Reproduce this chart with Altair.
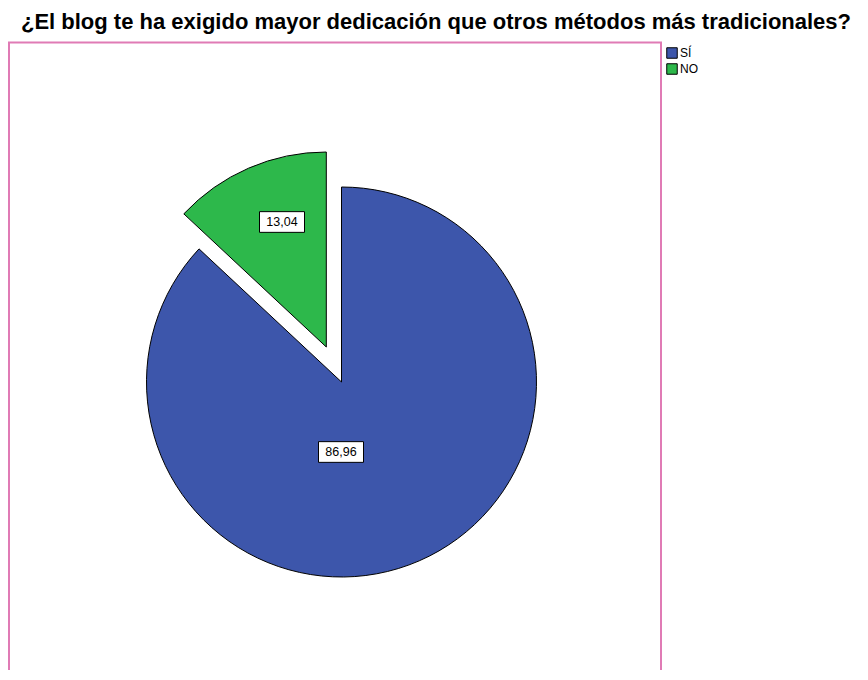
import altair as alt
import pandas as pd

categories = ["SÍ", "NO"]
percentages = [86.96, 13.04]
labels = ["86,96", "13,04"]
colors = ["#3d56ab", "#2db84b"]

df = pd.DataFrame({"cat": categories, "pct": percentages, "label": labels,
                   "order": [0, 1]})

CX, CY, R = 333.5, 340, 195
# exploded NO slice centre and label positions (style)
GX, GY = 318.3, 305
BLX, BLY = 333, 410
GLX, GLY = 274, 180
W, H = 852, 628

base = alt.Chart(df).transform_window(
    cum="sum(pct)", sort=[alt.SortField("order")]
).transform_calculate(
    start="datum.cum - datum.pct"
)

theta_scale = alt.Scale(domain=[0, 100], range=[0, 6.283185307179586])
color_enc = alt.Color("cat:N", scale=alt.Scale(domain=categories, range=colors),
                      sort=categories,
                      legend=alt.Legend(title=None, orient="none", legendX=658, legendY=5,
                                        symbolType="square", symbolSize=110,
                                        symbolStrokeColor="black", symbolStrokeWidth=1,
                                        symbolOpacity=1, labelFontSize=12,
                                        labelFont="Liberation Sans", labelColor="black",
                                        labelOffset=2, rowPadding=0, padding=0))

def slice_layer(cat, x, y):
    return base.transform_filter(alt.datum.cat == cat).mark_arc(
        stroke="black", strokeWidth=1, opacity=1
    ).encode(
        theta=alt.Theta("start:Q", scale=theta_scale),
        theta2="cum:Q",
        radius=alt.value(R),
        x=alt.value(x), y=alt.value(y),
        color=color_enc,
    )

def label_layers(cat, x, y):
    b = base.transform_filter(alt.datum.cat == cat)
    box = b.mark_point(
        shape="M-1,-0.46L1,-0.46L1,0.46L-1,0.46Z", filled=True, fill="white",
        stroke="black", strokeWidth=1, opacity=1, size=45 * 45
    ).encode(x=alt.value(x), y=alt.value(y))
    txt = b.mark_text(fontSize=12.5, font="Liberation Sans", color="black",
                      baseline="middle", align="center").encode(
        x=alt.value(x), y=alt.value(y), text="label:N")
    return [box, txt]

frame_color = "#e07bb5"
frame_df = pd.DataFrame({"k": [0]})
left = alt.Chart(frame_df).mark_rule(color=frame_color, strokeWidth=2).encode(
    x=alt.value(1), y=alt.value(0), y2=alt.value(H + 20))
right = alt.Chart(frame_df).mark_rule(color=frame_color, strokeWidth=2).encode(
    x=alt.value(653), y=alt.value(0), y2=alt.value(H + 20))
top = alt.Chart(frame_df).mark_rule(color=frame_color, strokeWidth=2).encode(
    x=alt.value(0), x2=alt.value(654), y=alt.value(0.5))

chart = alt.layer(
    left, right, top,
    slice_layer("SÍ", CX, CY),
    slice_layer("NO", GX, GY),
    *label_layers("SÍ", BLX, BLY),
    *label_layers("NO", GLX, GLY),
).properties(
    width=W, height=H,
    autosize=alt.AutoSizeParams(type="none"),
    padding={"left": 0, "top": 34, "right": 0, "bottom": 0},
    title=alt.TitleParams("¿El blog te ha exigido mayor dedicación que otros métodos más tradicionales?",
                          font="Liberation Sans", fontSize=22, fontWeight="bold",
                          color="black", anchor="middle", dx=2, offset=7),
).configure_view(stroke=None)

chart.save("out.html", embed_options={"renderer": "svg", "actions": False})
